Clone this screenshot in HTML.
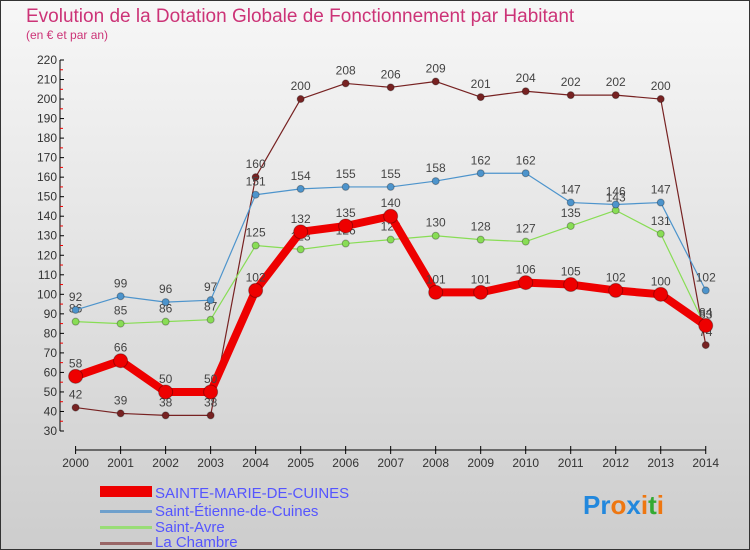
<!DOCTYPE html>
<html><head><meta charset="utf-8"><style>
body{margin:0}
#c{width:750px;height:550px;position:relative;overflow:hidden;font-family:"Liberation Sans",sans-serif}
</style></head><body>
<div id="c">
<svg id="s" width="750" height="550" xmlns="http://www.w3.org/2000/svg">
<defs><linearGradient id="bg" x1="0" y1="0" x2="0" y2="1"><stop offset="0" stop-color="#f7f7f7"/><stop offset="1" stop-color="#cdcdcd"/></linearGradient></defs>
<rect x="0.5" y="0.5" width="749" height="549" fill="url(#bg)" stroke="#333"/>
<text x="26" y="22" font-size="19" fill="#cc3377">Evolution de la Dotation Globale de Fonctionnement par Habitant</text>
<text x="26" y="39" font-size="12" fill="#cc3377">(en € et par an)</text>
<g id="axes"></g><g id="series"></g>
<g>
<rect x="100" y="486" width="52" height="11" fill="#ee0000"/>
<text x="155" y="498" font-size="15" fill="#5555ff">SAINTE-MARIE-DE-CUINES</text>
<rect x="100" y="510" width="52" height="3" fill="#6fa0cc"/>
<text x="155" y="516" font-size="15" fill="#5555ff">Saint-Étienne-de-Cuines</text>
<rect x="100" y="526" width="52" height="3" fill="#99dd77"/>
<text x="155" y="532" font-size="15" fill="#5555ff">Saint-Avre</text>
<rect x="100" y="542" width="52" height="3" fill="#996666"/>
<text x="155" y="547" font-size="15" fill="#5555ff">La Chambre</text>
</g>
<text x="583" y="514" font-size="26" font-weight="bold"><tspan fill="#2288dd">Pr</tspan><tspan fill="#ee7711">o</tspan><tspan fill="#2288dd">x</tspan><tspan fill="#ee7711">i</tspan><tspan fill="#33aa33">t</tspan><tspan fill="#ee7711">i</tspan></text>
</svg>
</div>
<script>
const years=[2000,2001,2002,2003,2004,2005,2006,2007,2008,2009,2010,2011,2012,2013,2014];
const yTicks=[30,40,50,60,70,80,90,100,110,120,130,140,150,160,170,180,190,200,210,220];
const sainteMarie=[58,66,50,50,102,132,135,140,101,101,106,105,102,100,84];
const saintEtienne=[92,99,96,97,151,154,155,155,158,162,162,147,146,147,102];
const saintAvre=[86,85,86,87,125,123,126,128,130,128,127,135,143,131,83];
const laChambre=[42,39,38,38,160,200,208,206,209,201,204,202,202,200,74];
const NS="http://www.w3.org/2000/svg";
const xS=i=>75.6+i*45.01;
const yS=v=>431-(v-30)*(371/190);
function mk(tag,attrs,parent,txt){const e=document.createElementNS(NS,tag);for(const k in attrs)e.setAttribute(k,attrs[k]);if(txt!==undefined)e.textContent=txt;parent.appendChild(e);return e;}
const ax=document.getElementById('axes');
let a=mk('line',{x1:60,y1:yS(220),x2:60,y2:yS(30),stroke:'#000'},ax);


yTicks.forEach(v=>{
 mk('line',{x1:60,x2:64,y1:yS(v),y2:yS(v),stroke:'#000'},ax);
 if(v<220)mk('line',{x1:60,x2:63,y1:yS(v+5),y2:yS(v+5),stroke:'#e00'},ax);
 const t=mk('text',{x:57,y:yS(v)+4,'font-size':12,'text-anchor':'end',fill:'#333'},ax,String(v));
 
 
});
a=mk('line',{x1:xS(0),y1:450,x2:xS(14),y2:450,stroke:'#000'},ax);


years.forEach((y,i)=>{
 mk('line',{x1:xS(i),x2:xS(i),y1:446,y2:454,stroke:'#000'},ax);
 const t=mk('text',{x:xS(i),y:467,'font-size':12,'text-anchor':'middle',fill:'#333'},ax,String(y));
 
 
});
const sg=document.getElementById('series');
function series(data,color,w,r,name,labels){
 const g=mk('g',{},sg);
 
 
 mk('polyline',{points:data.map((v,i)=>xS(i)+','+yS(v)).join(' '),fill:'none',stroke:color,'stroke-width':w,'stroke-linejoin':'round'},g);
 data.forEach((v,i)=>{
  const c=mk('circle',{cx:xS(i),cy:yS(v),r:r,fill:color,stroke:'rgba(0,0,0,0.3)'},g);
  
  
  if(labels){const t=mk('text',{x:xS(i),y:yS(v)-9,'font-size':12,'text-anchor':'middle',fill:'#444'},g,String(v));
  
  }
 });
}
series(laChambre,'#772222',1.2,3.5,'series-la-chambre',true);
series(saintAvre,'#88dd55',1.2,3.5,'series-saint-avre',true);
series(saintEtienne,'#4d94cc',1.2,3.5,'series-saint-etienne',true);
series(sainteMarie,'#ee0000',8,7,'series-sainte-marie',true);
</script>
</body></html>
